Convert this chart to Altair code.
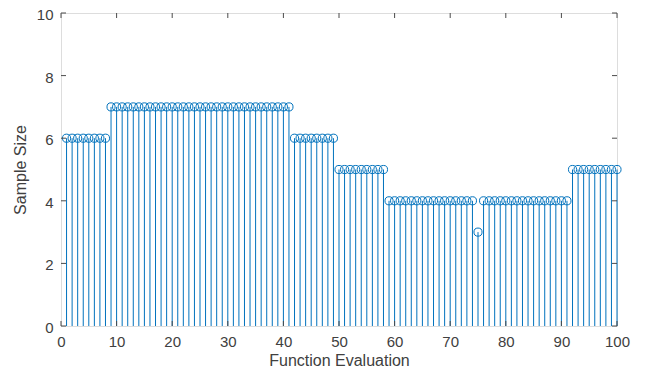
import altair as alt
import pandas as pd

evals = list(range(1, 101))
sizes = ([6] * 8 + [7] * 33 + [6] * 8 + [5] * 9 + [4] * 16 + [3] + [4] * 16 + [5] * 9)
xticks = list(range(0, 101, 10))
yticks = list(range(0, 11, 2))

W, H = 556, 313
BLUE = "#0072BD"
AX = "#4a4a4a"
FONT = "Liberation Sans"
TXT = "#404040"

df = pd.DataFrame({"x": evals, "y": sizes})
xs = alt.Scale(domain=[0, 100], nice=False, zero=False)
ys = alt.Scale(domain=[0, 10], nice=False)

common = dict(tickSize=0, domain=False, grid=False, labelPadding=8, labelFontSize=15,
              titleFontSize=16, labelColor=TXT, titleColor=TXT, labelFont=FONT,
              titleFont=FONT, titleFontWeight="normal", labelFlush=False)

base = alt.Chart(df)
stems = base.mark_rule(color=BLUE, strokeWidth=1).encode(
    x=alt.X("x:Q", scale=xs,
            axis=alt.Axis(values=xticks, title="Function Evaluation", titleY=39,
                          titleBaseline="alphabetic", **common)),
    y=alt.Y("y:Q", scale=ys,
            axis=alt.Axis(values=yticks, title="Sample Size", titlePadding=8, labelOffset=1.5,
                          **common)),
    y2=alt.datum(0),
)
heads = base.mark_point(shape="circle", filled=False, size=66, color=BLUE, strokeWidth=1, opacity=1).encode(
    x=alt.X("x:Q", scale=xs), y=alt.Y("y:Q", scale=ys))

xt = alt.Chart(pd.DataFrame({"t": xticks}))
yt = alt.Chart(pd.DataFrame({"t": yticks}))
tb = xt.mark_rule(color=AX).encode(x=alt.X("t:Q", scale=xs), y=alt.value(H), y2=alt.value(H - 5))
tt = xt.mark_rule(color=AX).encode(x=alt.X("t:Q", scale=xs), y=alt.value(0), y2=alt.value(5))
tl = yt.mark_rule(color=AX).encode(y=alt.Y("t:Q", scale=ys), x=alt.value(0), x2=alt.value(5))
tr = yt.mark_rule(color=AX).encode(y=alt.Y("t:Q", scale=ys), x=alt.value(W), x2=alt.value(W - 5))

chart = alt.layer(stems, heads, tb, tt, tl, tr).properties(
    width=W, height=H,
    autosize=alt.AutoSizeParams(type="none"),
    padding={"left": 53, "top": 5, "right": 31, "bottom": 42},
).configure_view(stroke=AX, strokeWidth=1).configure(background="white")

chart.save("out.html", embed_options={"renderer": "svg", "actions": False})
